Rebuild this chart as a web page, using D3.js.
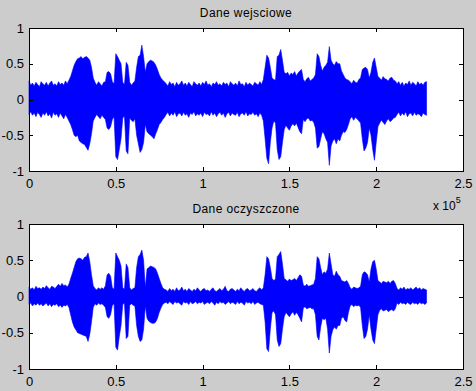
<!DOCTYPE html>
<html><head><meta charset="utf-8">
<script src="https://cdn.jsdelivr.net/npm/d3@7"></script>
<style>html,body{margin:0;padding:0;background:#cccccc;}svg{display:block;}</style>
</head><body>
<script>
// Envelope of the signal, one value per 1000 samples (upper / lower limits)
const sampleStep = 1000;
const titles = ["Dane wejsciowe", "Dane oczyszczone"];
const xTicks = [0, 50000, 100000, 150000, 200000, 250000];
const xTickLabels = ["0", "0.5", "1", "1.5", "2", "2.5"];
const yTicks = [-1, -0.5, 0, 0.5, 1];
const yTickLabels = ["-1", "-0.5", "0", "0.5", "1"];

const inUpper = [
.26,.20,.23,.19,.24,.21,.18,.25,.22,.20,.24,.19,.23,.26,.20,.22,.19,.25,.21,.23,.20,.26,.22,.27,
.32,.40,.48,.53,.57,.58,.60,.57,.59,.60,.58,.55,.45,.30,
.24,.20,.25,.22,.19,.24,.25,
.38,.39,.36,
.25,.22,
.64,.60,.55,.50,
.24,.21,
.52,.48,
.24,.20,.23,.26,
.45,.60,.62,.76,.60,
.38,
.50,.53,.55,.54,.52,.48,.42,.35,
.30,.27,.25,
.22,.19,.25,.21,.23,.18,.24,.20,.22,.26,
.20,.23,.19,.24,.21,.18,.25,.22,.20,.23,
.19,.24,.21,.26,.20,.22,.18,.23,.21,.25,
.20,.22,.19,.24,.21,.23,.18,.25,.22,.20,
.23,.19,.26,.21,.22,.18,.24,.20,.23,.21,
.19,.24,.22,.20,.25,.21,.28,
.45,.62,.58,.45,.30,.28,.27,.60,.62,.70,.55,.38,
.36,.38,.33,.37,.35,.39,.33,.37,.40,.42,
.28,.25,.29,.31,.26,.28,.30,.35,
.64,.60,.48,.40,.45,.48,.52,.74,.55,.50,.48,.53,.50,.50,.40,.35,.30,.28,.27,
.25,.22,.27,.24,.23,.28,.30,
.42,.44,.45,.42,.30,.38,.52,.58,.45,.32,
.30,.27,.32,.29,.28,.26,.30,.31,.27,.26,
.22,.25,.20,.24,.19,.23,.21,.26,.20,.24,.22,.19,.25,.21,.23,.20,.24,.25
];
const inLower = [
-.21,-.17,-.22,-.19,-.24,-.18,-.21,-.25,-.19,-.22,-.17,-.23,-.20,-.26,-.18,-.22,-.20,-.25,-.19,-.23,-.27,-.21,-.25,-.30,
-.35,-.42,-.50,-.52,-.50,-.58,-.60,-.62,-.63,-.67,-.71,-.62,-.48,-.30,
-.25,-.21,-.24,-.27,-.22,-.25,-.28,
-.40,-.42,-.38,
-.28,-.24,
-.80,-.84,-.70,-.55,
-.26,-.23,
-.72,-.76,
-.26,-.29,-.31,-.27,
-.50,-.62,-.74,-.70,-.60,
-.35,
-.45,-.48,-.50,-.52,-.55,-.48,-.42,-.35,
-.32,-.28,-.25,
-.21,-.18,-.23,-.19,-.22,-.17,-.24,-.20,-.19,-.23,
-.18,-.22,-.20,-.25,-.19,-.21,-.17,-.23,-.20,-.22,
-.19,-.24,-.18,-.21,-.20,-.23,-.17,-.22,-.19,-.24,
-.20,-.18,-.22,-.19,-.25,-.20,-.18,-.23,-.19,-.21,
-.22,-.18,-.24,-.20,-.19,-.22,-.17,-.23,-.20,-.21,
-.18,-.22,-.20,-.24,-.19,-.22,-.30,
-.55,-.82,-.90,-.60,-.40,-.30,-.33,-.70,-.84,-.80,-.60,-.42,
-.36,-.40,-.43,-.37,-.34,-.37,-.33,-.39,-.45,-.48,
-.28,-.31,-.27,-.26,-.30,-.29,-.32,-.40,
-.68,-.66,-.55,-.45,-.48,-.55,-.60,-.92,-.65,-.58,-.55,-.62,-.55,-.58,-.50,-.45,-.46,-.42,-.35,
-.27,-.24,-.29,-.25,-.27,-.30,-.33,
-.55,-.72,-.68,-.60,-.40,-.50,-.70,-.85,-.60,-.38,
-.33,-.29,-.32,-.35,-.30,-.27,-.31,-.29,-.26,-.25,
-.21,-.18,-.23,-.19,-.22,-.17,-.24,-.20,-.19,-.23,-.18,-.22,-.20,-.21,-.24,-.19,-.21,-.22
];
const outUpper = [
.13,.10,.12,.09,.14,.11,.12,.10,.13,.11,.15,.12,.10,.14,.13,.11,.14,.17,.14,.18,.15,.16,.13,.17,
.25,.32,.40,.48,.52,.53,.52,.50,.54,.55,.60,.48,.30,.15,
.11,.09,.12,.10,.12,.10,.15,
.30,.32,.28,
.12,.10,
.60,.55,.50,.42,
.12,.10,
.45,.40,
.12,.09,.11,.12,
.40,.55,.58,.64,.50,
.12,
.38,.40,.42,.41,.40,.38,.32,.25,
.18,.12,.10,
.09,.07,.11,.08,.10,.07,.12,.08,.09,.13,
.08,.10,.07,.11,.09,.07,.10,.08,.12,.09,
.07,.10,.11,.08,.09,.07,.10,.12,.08,.07,
.09,.11,.08,.10,.14,.08,.07,.10,.11,.09,
.07,.10,.08,.12,.09,.07,.10,.11,.08,.09,
.11,.08,.07,.10,.12,.09,.12,
.30,.55,.52,.40,.25,.22,.24,.55,.58,.62,.45,.25,
.23,.21,.24,.22,.23,.25,.22,.26,.30,.28,
.16,.14,.17,.14,.15,.16,.17,.25,
.55,.52,.40,.30,.34,.32,.38,.60,.45,.30,.28,.35,.30,.28,.22,.21,.20,.22,.18,
.12,.10,.13,.12,.11,.12,.14,
.30,.34,.33,.30,.20,.38,.48,.50,.38,.22,
.20,.18,.21,.20,.19,.21,.18,.21,.22,.18,
.11,.09,.12,.10,.13,.09,.11,.10,.12,.09,.11,.13,.10,.12,.09,.11,.10,.09
];
const outLower = [
-.11,-.09,-.13,-.10,-.12,-.09,-.12,-.10,-.13,-.11,-.09,-.13,-.10,-.14,-.11,-.12,-.10,-.14,-.12,-.15,-.12,-.13,-.11,-.15,
-.25,-.35,-.42,-.46,-.50,-.51,-.52,-.53,-.54,-.55,-.62,-.52,-.35,-.15,
-.10,-.12,-.09,-.11,-.10,-.12,-.15,
-.28,-.30,-.25,
-.12,-.10,
-.70,-.74,-.55,-.40,
-.11,-.09,
-.58,-.55,
-.12,-.10,-.12,-.13,
-.40,-.55,-.62,-.60,-.45,
-.13,
-.30,-.34,-.36,-.37,-.37,-.35,-.30,-.22,
-.16,-.11,-.09,
-.08,-.10,-.07,-.09,-.11,-.07,-.09,-.08,-.10,-.12,
-.07,-.09,-.08,-.11,-.07,-.10,-.09,-.07,-.10,-.08,
-.09,-.07,-.11,-.09,-.08,-.10,-.07,-.09,-.12,-.08,
-.10,-.07,-.09,-.08,-.11,-.09,-.07,-.10,-.08,-.09,
-.11,-.07,-.10,-.08,-.09,-.12,-.07,-.09,-.08,-.10,
-.07,-.11,-.09,-.08,-.10,-.11,-.12,
-.35,-.72,-.76,-.45,-.22,-.20,-.25,-.60,-.69,-.65,-.45,-.28,
-.22,-.25,-.28,-.24,-.21,-.26,-.22,-.25,-.30,-.35,
-.16,-.14,-.17,-.16,-.15,-.17,-.17,-.25,
-.55,-.60,-.42,-.30,-.32,-.30,-.45,-.78,-.55,-.46,-.42,-.45,-.40,-.40,-.30,-.28,-.33,-.35,-.22,
-.13,-.11,-.14,-.12,-.13,-.12,-.15,
-.40,-.58,-.55,-.45,-.25,-.45,-.60,-.65,-.45,-.25,
-.19,-.17,-.20,-.19,-.18,-.21,-.19,-.18,-.20,-.17,
-.09,-.11,-.08,-.10,-.09,-.11,-.08,-.10,-.11,-.08,-.10,-.09,-.11,-.08,-.10,-.09,-.11,-.09
];

const W = 476, H = 391;
const svg = d3.select("body").append("svg").attr("width", W).attr("height", H)
  .style("font-family", "'Liberation Sans', Arial, sans-serif");
svg.append("rect").attr("width", W).attr("height", H).attr("fill", "#cccccc");

const panels = [
  {top: 28, bottom: 171, up: inUpper, lo: inLower, title: titles[0], exp: true},
  {top: 224, bottom: 369, up: outUpper, lo: outLower, title: titles[1], exp: false}
];
const left = 29, right = 463;
const x = d3.scaleLinear().domain([0, 250000]).range([left, right]);

panels.forEach(p => {
  const y = d3.scaleLinear().domain([-1, 1]).range([p.bottom, p.top]);
  const g = svg.append("g");
  g.append("rect").attr("x", left).attr("y", p.top).attr("width", right - left)
    .attr("height", p.bottom - p.top).attr("fill", "#ffffff");
  const data = p.up.map((u, i) => ({s: i * sampleStep, u: u, l: p.lo[i]}));
  const area = d3.area().x(d => x(d.s)).y0(d => y(d.l)).y1(d => y(d.u));
  g.append("path").datum(data).attr("d", area)
    .attr("fill", "#0000ff").attr("stroke", "#0000ff").attr("stroke-width", 0.6);

  const tk = 4;
  const fmtX = (d, i) => xTickLabels[i];
  const fmtY = (d, i) => yTickLabels[i];
  const ax = [
    g.append("g").attr("transform", `translate(0,${p.bottom})`)
      .call(d3.axisBottom(x).tickValues(xTicks).tickFormat(fmtX).tickSizeInner(-tk).tickSizeOuter(0).tickPadding(8)),
    g.append("g").attr("transform", `translate(0,${p.top})`)
      .call(d3.axisTop(x).tickValues(xTicks).tickFormat("").tickSizeInner(-tk).tickSizeOuter(0)),
    g.append("g").attr("transform", `translate(${left},0)`)
      .call(d3.axisLeft(y).tickValues(yTicks).tickFormat(fmtY).tickSizeInner(-tk).tickSizeOuter(0).tickPadding(5)),
    g.append("g").attr("transform", `translate(${right},0)`)
      .call(d3.axisRight(y).tickValues(yTicks).tickFormat("").tickSizeInner(-tk).tickSizeOuter(0))
  ];
  ax.forEach(a => {
    a.select(".domain").remove();
    a.selectAll("line").attr("stroke", "#000").attr("shape-rendering", "crispEdges");
    a.selectAll("text").attr("fill", "#000").style("font-size", "13px")
      .style("font-family", "'Liberation Sans', Arial, sans-serif");
  });
  g.append("rect").attr("x", left).attr("y", p.top).attr("width", right - left)
    .attr("height", p.bottom - p.top).attr("fill", "none").attr("stroke", "#000")
    .attr("shape-rendering", "crispEdges");
  g.append("text").attr("x", (left + right) / 2).attr("y", p.top - 11)
    .attr("text-anchor", "middle").style("font-size", "12px").style("letter-spacing", "0.4px")
    .text(p.title);
  if (p.exp) {
    const t = g.append("text").attr("x", 433).attr("y", p.bottom + 39).style("font-size", "12px");
    t.append("tspan").text("x 10");
    t.append("tspan").attr("dy", -7).style("font-size", "9px").text("5");
  }
});
</script>
</body></html>
